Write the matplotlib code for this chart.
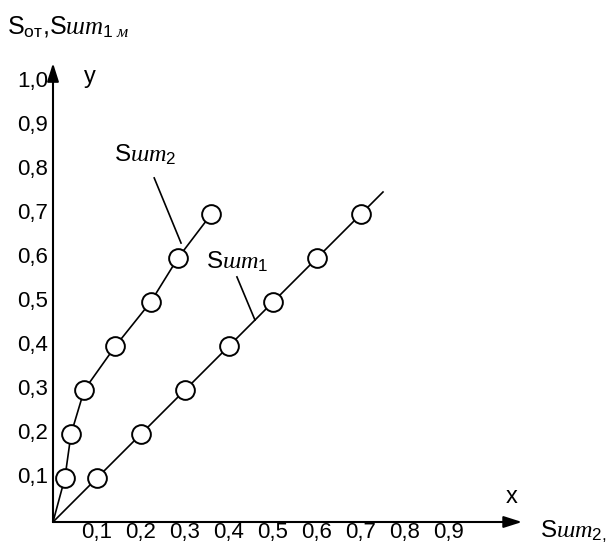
import matplotlib
matplotlib.use("Agg")
from matplotlib import pyplot as plt

plt.rcParams['font.family'] = ['Liberation Sans', 'DejaVu Sans']
plt.rcParams['mathtext.fontset'] = 'custom'
plt.rcParams['mathtext.rm'] = 'Liberation Sans'
plt.rcParams['mathtext.it'] = 'Liberation Serif:italic'
plt.rcParams['mathtext.bf'] = 'Liberation Sans:bold'

# data
sht1_x = [0.1, 0.2, 0.3, 0.4, 0.5, 0.6, 0.7]
sht1_y = [0.1, 0.2, 0.3, 0.4, 0.5, 0.6, 0.7]
sht1_line_x = [0.0, 0.75]
sht1_line_y = [0.0, 0.75]

sht2_x = [0.027, 0.041, 0.071, 0.142, 0.222, 0.284, 0.36]
sht2_y = [0.1, 0.2, 0.3, 0.4, 0.5, 0.6, 0.7]

x_ticks = [0.1, 0.2, 0.3, 0.4, 0.5, 0.6, 0.7, 0.8, 0.9]
x_labels = ['0,1', '0,2', '0,3', '0,4', '0,5', '0,6', '0,7', '0,8', '0,9']
y_ticks = [0.1, 0.2, 0.3, 0.4, 0.5, 0.6, 0.7, 0.8, 0.9, 1.0]
y_labels = ['0,1', '0,2', '0,3', '0,4', '0,5', '0,6', '0,7', '0,8', '0,9', '1,0']

fig = plt.figure(figsize=(6.08, 5.45), dpi=100)
ax = fig.add_axes([0, 0, 1, 1])
scale = 440.0
ax.set_xlim(-53 / scale, (608 - 53) / scale)
ax.set_ylim(-23 / scale, (545 - 23) / scale)
ax.axis('off')

# axes with arrows
arrow = dict(arrowstyle='-|>,head_length=1.1,head_width=0.35', color='black',
             lw=1.5, shrinkA=0, shrinkB=0)
ax.annotate('', xy=(1.066, 0), xytext=(0, 0), arrowprops=arrow)
ax.annotate('', xy=(0, 1.043), xytext=(0, 0), arrowprops=arrow)

fs = 16
for t, lab in zip(x_ticks, x_labels):
    ax.text(t, -0.024, lab, ha='center', va='center', fontsize=fs)
for t, lab in zip(y_ticks, y_labels):
    ax.text(-0.011, t, lab, ha='right', va='center', fontsize=fs)

ax.text(0.084, 1.012, 'y', ha='center', va='center', fontsize=17)
ax.text(1.043, 0.057, 'x', ha='center', va='center', fontsize=17)
ax.text(1.107, -0.022, r'S$\mathit{шт}_{2,}$', ha='left', va='center', fontsize=17.5)
ax.text(-0.105, 1.123, r'S$_{\mathrm{от}}$,S$\mathit{шт}_{1}\,_{\mathit{м}}$',
        ha='left', va='center', fontsize=18)

# series
mk = dict(marker='o', markersize=13.5, markerfacecolor='white',
          markeredgecolor='black', markeredgewidth=1.4)
ax.plot(sht1_line_x, sht1_line_y, color='black', lw=1.2)
ax.plot(sht1_x, sht1_y, linestyle='none', **mk)
ax.plot([0.0] + sht2_x, [0.0] + sht2_y, color='black', lw=1.2)
ax.plot(sht2_x, sht2_y, linestyle='none', **mk)

# curve labels with leader lines
ax.text(0.209, 0.834, r'S$\mathit{шт}_{2}$', ha='center', va='center', fontsize=17.5)
ax.plot([0.230, 0.291], [0.782, 0.634], color='black', lw=1.2)
ax.text(0.418, 0.591, r'S$\mathit{шт}_{1}$', ha='center', va='center', fontsize=17.5)
ax.plot([0.418, 0.459], [0.557, 0.459], color='black', lw=1.2)

fig.savefig('out.png', dpi=100)
